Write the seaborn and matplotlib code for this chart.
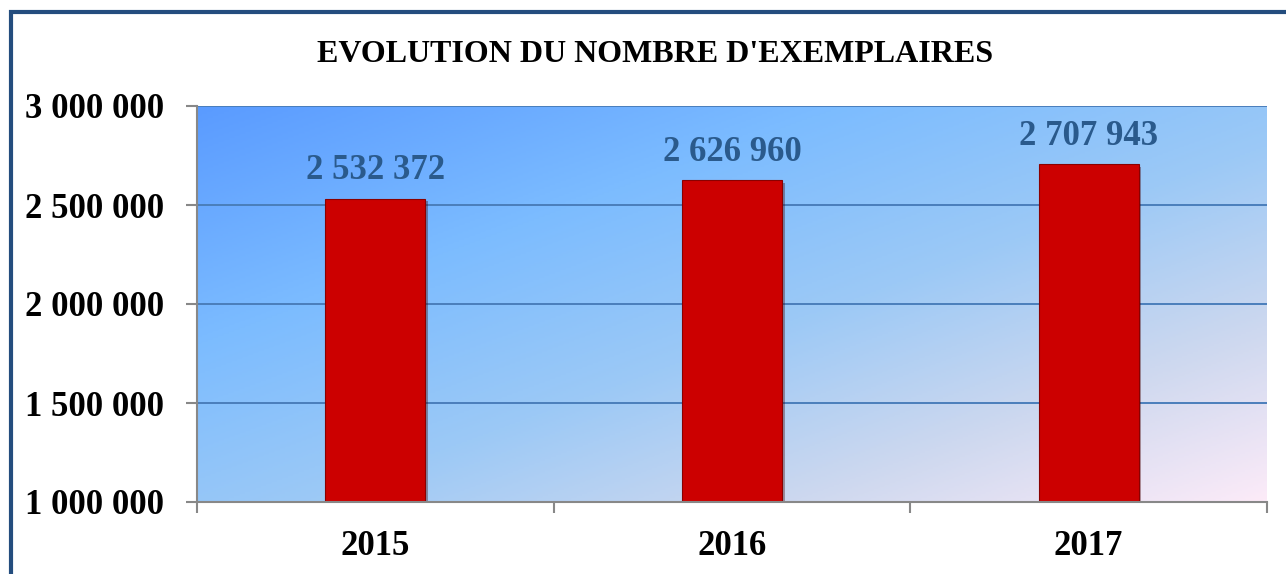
import matplotlib
matplotlib.use("Agg")
import matplotlib.pyplot as plt
import matplotlib.patheffects as pe
from matplotlib.colors import LinearSegmentedColormap
from matplotlib.patches import Rectangle
import numpy as np
import pandas as pd
import seaborn as sns

# data
years = ["2015", "2016", "2017"]
copies = [2532372, 2626960, 2707943]
y_ticks = [1000000, 1500000, 2000000, 2500000, 3000000]

title = "EVOLUTION DU NOMBRE D'EXEMPLAIRES"

df = pd.DataFrame({"annee": years, "exemplaires": copies})


def fmt_space(v):
    return f"{v:,.0f}".replace(",", " ")


sns.set_theme(style="white")
plt.rcParams["font.family"] = ["Liberation Serif", "DejaVu Serif"]

fig = plt.figure(figsize=(12.86, 5.74), dpi=100)
fig.patch.set_facecolor("white")
ax = fig.add_axes([197 / 1286, 1 - 502 / 574, 1070 / 1286, 396 / 574])

# diagonal gradient background of the plot area
grad_cmap = LinearSegmentedColormap.from_list(
    "bg",
    [(0.0, "#5a9bff"), (0.3, "#7cbcff"), (0.55, "#9cc9f6"),
     (0.78, "#cdd8ef"), (1.0, "#fcebf8")],
)
gx, gy = np.meshgrid(np.linspace(0, 1, 400), np.linspace(0, 1, 200))
ax.imshow((gx + gy) / 2, cmap=grad_cmap, extent=[0, 1, 0, 1],
          transform=ax.transAxes, aspect="auto", zorder=0, origin="upper")

sns.barplot(data=df, x="annee", y="exemplaires", color="#cc0000",
            width=0.28, ax=ax, zorder=3, saturation=1,
            edgecolor="#8a0000", linewidth=0.8)
for bar in ax.patches:
    bar.set_path_effects([pe.SimplePatchShadow(offset=(2, -2), alpha=0.35),
                          pe.Normal()])

ax.bar_label(ax.containers[0], labels=[fmt_space(v) for v in copies],
             padding=8, color="#2a5a8c", fontsize=25, fontweight="bold")

ax.set_ylim(1000000, 3000000)
ax.set_xlim(-0.5, 2.5)
ax.set_yticks(y_ticks)
ax.set_yticklabels([fmt_space(v) for v in y_ticks], fontsize=25,
                   fontweight="bold", color="black")
ax.yaxis.grid(True, color="#4a7ebb", linewidth=1.4, zorder=1)
ax.set_axisbelow(True)

# category separators as major ticks, labels on minor ticks
ax.set_xticks([-0.5, 0.5, 1.5, 2.5])
ax.set_xticklabels([])
ax.set_xticks([0, 1, 2], minor=True)
ax.set_xticklabels(years, minor=True, fontsize=25, fontweight="bold",
                   color="black")
ax.tick_params(axis="x", which="major", length=8, width=1.5,
               color="#888888", direction="out", bottom=True)
ax.tick_params(axis="x", which="minor", length=0, pad=20, bottom=True)
ax.tick_params(axis="y", length=8, width=1.5, color="#888888",
               direction="out", pad=16, left=True)

ax.set_xlabel("")
ax.set_ylabel("")
for side in ["top", "right"]:
    ax.spines[side].set_visible(False)
for side in ["left", "bottom"]:
    ax.spines[side].set_color("#888888")
    ax.spines[side].set_linewidth(1.5)
    ax.spines[side].set_zorder(4)

fig.text(655 / 1286, 1 - 55 / 574, title, ha="center", va="center",
         fontsize=23, fontweight="bold", color="black")

# dark blue frame around the chart
fig.patches.append(Rectangle((11 / 1286, -0.1), 1.2, 1.1 - 12.5 / 574,
                             transform=fig.transFigure, fill=False,
                             edgecolor="#244d7e", linewidth=3, zorder=10))

fig.savefig("out.png", dpi=100)
